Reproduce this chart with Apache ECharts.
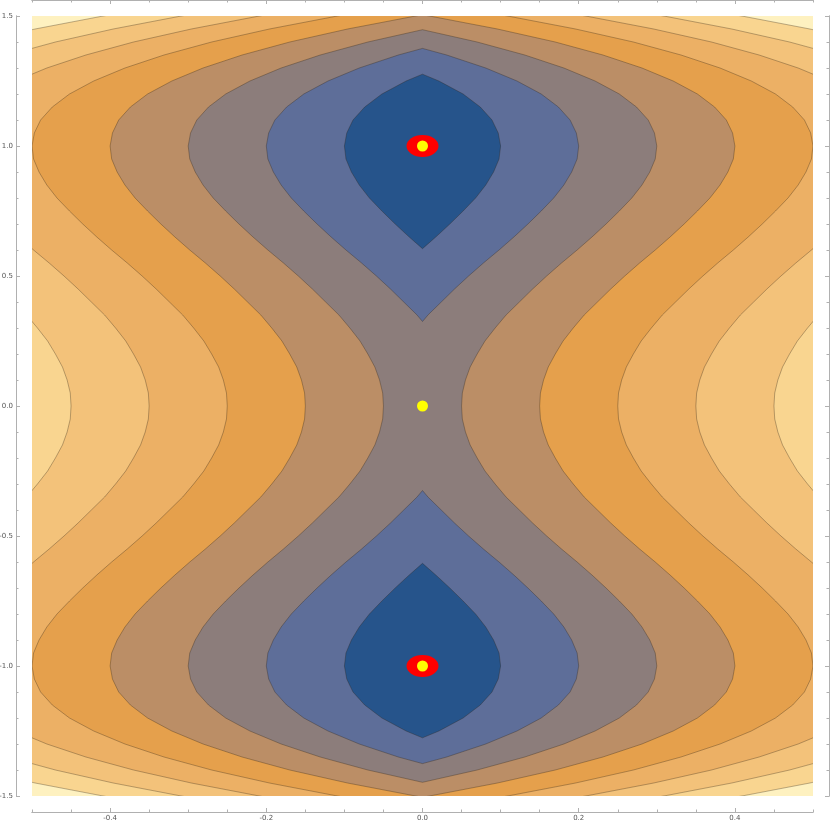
<!DOCTYPE html>
<html>
<head>
<meta charset="utf-8">
<style>
  html, body { margin: 0; padding: 0; background: #fff; }
  #chart { width: 830px; height: 824px; }
</style>
<script src="https://cdn.jsdelivr.net/npm/echarts@6/dist/echarts.min.js"></script>
</head>
<body>
<div id="chart"></div>
<script>
// depth of the valley along y, read from where the contours cross x = 0 / x = +-0.5
// (the picture is mirror symmetric in y, so only y >= 0 is kept)
var depthY   = [0, 0.05, 0.1, 0.15, 0.2, 0.25, 0.3, 0.35, 0.4, 0.45, 0.5, 0.55, 0.6, 0.65, 0.7, 0.75, 0.8,
                0.85, 0.9, 0.95, 1.0, 1.05, 1.1, 1.15, 1.2, 1.25, 1.3, 1.35, 1.4, 1.45, 1.5, 1.55, 1.6];
var depthVal = [0.250, 0.249, 0.245, 0.239, 0.230, 0.220, 0.207, 0.193, 0.176, 0.159, 0.141, 0.122, 0.102,
                0.083, 0.065, 0.048, 0.032, 0.019, 0.009, 0.002, 0.000, 0.003, 0.011, 0.026, 0.048, 0.079,
                0.119, 0.169, 0.230, 0.304, 0.391, 0.492, 0.608];
// contour levels; every contour sits at |x| = level - depth(y)
var levels = [0.1, 0.2, 0.3, 0.4, 0.5, 0.6, 0.7, 0.8];
var bandColors = ['#26548B', '#5E6E99', '#8C7D7B', '#BB8E66', '#E5A04C', '#ECB065', '#F3C27A', '#F9D590', '#FEF1C0'];

var xTicks = [-0.4, -0.2, 0, 0.2, 0.4];
var xMinor = [-0.5, -0.45, -0.35, -0.3, -0.25, -0.15, -0.1, -0.05, 0.05, 0.1, 0.15, 0.25, 0.3, 0.35, 0.45, 0.5];
var yTicks = [-1.5, -1, -0.5, 0, 0.5, 1, 1.5];
var yMinor = [-1.4, -1.3, -1.2, -1.1, -0.9, -0.8, -0.7, -0.6, -0.4, -0.3, -0.2, -0.1,
              0.1, 0.2, 0.3, 0.4, 0.6, 0.7, 0.8, 0.9, 1.1, 1.2, 1.3, 1.4];

var minimaX = [0, 0];
var minimaY = [1, -1];
var pointX = [0, 0, 0];
var pointY = [1, 0, -1];

// full profile over -1.6..1.6
var ys = [], gs = [];
for (var i = depthY.length - 1; i > 0; i--) { ys.push(-depthY[i]); gs.push(depthVal[i]); }
for (i = 0; i < depthY.length; i++) { ys.push(depthY[i]); gs.push(depthVal[i]); }

function crossY(a, b, c) {
    var t = (c - gs[a]) / (gs[b] - gs[a]);
    return ys[a] + t * (ys[b] - ys[a]);
}

// regions {f < level}, highest level first so lower ones paint on top
var regions = [];
for (var k = levels.length - 1; k >= 0; k--) {
    var c = levels[k];
    i = 0;
    while (i < ys.length) {
        if (gs[i] >= c) { i++; continue; }
        var start = i;
        while (i < ys.length && gs[i] < c) i++;
        var end = i - 1;
        var right = [];
        if (start > 0) right.push([0, crossY(start - 1, start, c)]);
        for (var m = start; m <= end; m++) right.push([c - gs[m], ys[m]]);
        if (end < ys.length - 1) right.push([0, crossY(end, end + 1, c)]);
        var pts = right.slice();
        for (m = right.length - 1; m >= 0; m--) {
            if (right[m][0] === 0) continue;
            pts.push([-right[m][0], right[m][1]]);
        }
        regions.push({ color: bandColors[k], pts: pts });
    }
}

var frameColor = '#b0b0b0';
var labelStyle = { fontSize: 7, color: '#555', fontFamily: 'DejaVu Sans' };
function fmt(v) { return v.toFixed(1); }

function xAxisDef(pos, values, len, labels) {
    return {
        type: 'value', min: -0.5, max: 0.5, position: pos, offset: 16,
        axisLine: { show: true, onZero: false, lineStyle: { color: frameColor, width: 1 } },
        axisTick: { show: true, inside: true, length: len, customValues: values, lineStyle: { color: frameColor } },
        axisLabel: labels ? Object.assign({ customValues: values, formatter: fmt, margin: 3 }, labelStyle) : { show: false },
        splitLine: { show: false }
    };
}
function yAxisDef(pos, values, len, labels) {
    return {
        type: 'value', min: -1.5, max: 1.5, position: pos, offset: 16,
        axisLine: { show: true, onZero: false, lineStyle: { color: frameColor, width: 1 } },
        axisTick: { show: true, inside: true, length: len, customValues: values, lineStyle: { color: frameColor } },
        axisLabel: labels ? Object.assign({ customValues: values, formatter: fmt, margin: 3 }, labelStyle) : { show: false },
        splitLine: { show: false }
    };
}

var chart = echarts.init(document.getElementById('chart'), null, { renderer: 'canvas' });
chart.setOption({
    animation: false,
    backgroundColor: '#fff',
    grid: {
        left: 32, right: 17, top: 16, bottom: 28,
        outerBoundsMode: 'none', containLabel: false,
        show: true, backgroundColor: bandColors[8], borderWidth: 0
    },
    xAxis: [
        xAxisDef('bottom', xTicks, 4, true),
        xAxisDef('bottom', xMinor, 2.5, false),
        xAxisDef('top', xTicks, 4, false),
        xAxisDef('top', xMinor, 2.5, false)
    ],
    yAxis: [
        yAxisDef('left', yTicks, 4, true),
        yAxisDef('left', yMinor, 2.5, false),
        yAxisDef('right', yTicks, 4, false),
        yAxisDef('right', yMinor, 2.5, false)
    ],
    series: [
        {
            type: 'custom',
            coordinateSystem: 'cartesian2d',
            xAxisIndex: 0, yAxisIndex: 0,
            clip: true,
            silent: true,
            data: regions.map(function () { return [0, 0]; }),
            renderItem: function (params, api) {
                var r = regions[params.dataIndex];
                return {
                    type: 'polygon',
                    shape: { points: r.pts.map(function (p) { return api.coord(p); }) },
                    style: { fill: r.color, stroke: 'rgba(40,30,20,0.4)', lineWidth: 0.8 }
                };
            }
        },
        {
            type: 'scatter',
            xAxisIndex: 0, yAxisIndex: 0,
            silent: true,
            symbol: 'circle',
            symbolSize: [32, 22],
            itemStyle: { color: '#ff0000', opacity: 1 },
            data: minimaX.map(function (x, j) { return [x, minimaY[j]]; })
        },
        {
            type: 'scatter',
            xAxisIndex: 0, yAxisIndex: 0,
            silent: true,
            symbol: 'circle',
            symbolSize: 11,
            itemStyle: { color: '#ffff00', opacity: 1 },
            data: pointX.map(function (x, j) { return [x, pointY[j]]; })
        }
    ]
});
</script>
</body>
</html>
